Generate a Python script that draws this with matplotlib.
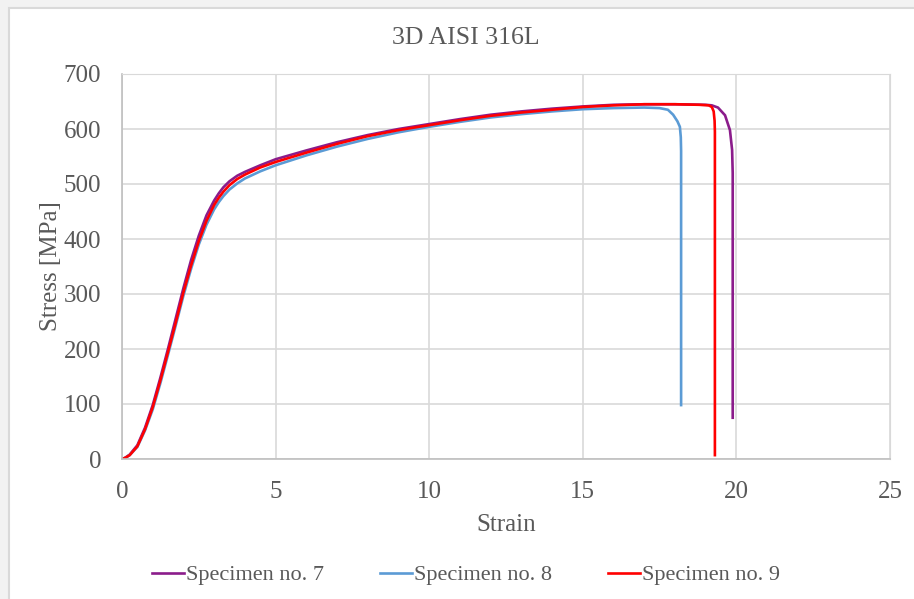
#!/usr/bin/env python3
"""Stress-strain curves, 3D printed AISI 316L specimens 7-9."""

import matplotlib
matplotlib.use("Agg")
import matplotlib.pyplot as plt
from matplotlib.patches import Rectangle

# Specimen no. 7
strain_7 = [0, 0.1, 0.25, 0.5, 0.75, 1.0, 1.25, 1.5, 1.75, 2.0, 2.25, 2.5,
            2.75, 3.0, 3.15, 3.3, 3.5, 3.75, 4.0, 4.5, 5.0, 6.0, 7.0, 8.0,
            9.0, 10.0, 11.0, 12.0, 13.0, 14.0, 15.0, 16.0, 17.0, 18.0, 19.0,
            19.2, 19.4, 19.63, 19.79, 19.86, 19.88, 19.88]
stress_7 = [0, 2, 8, 25, 57, 98, 148, 201, 256, 311, 362, 406,
            443, 470, 483, 494, 505, 515, 522, 534, 545, 561, 576, 589,
            600, 609, 618, 626, 632, 637, 641, 644, 645, 645, 644,
            643, 639, 625, 598, 562, 520, 75]

# Specimen no. 8
strain_8 = [0, 0.1, 0.25, 0.5, 0.75, 1.0, 1.25, 1.5, 1.75, 2.0, 2.25, 2.5,
            2.75, 3.0, 3.15, 3.3, 3.5, 3.75, 4.0, 4.5, 5.0, 6.0, 7.0, 8.0,
            9.0, 10.0, 11.0, 12.0, 13.0, 14.0, 15.0, 16.0, 17.0, 17.5, 17.77,
            17.94, 18.08, 18.16, 18.19, 18.2, 18.2]
stress_8 = [0, 2, 7, 22, 52, 90, 138, 190, 243, 297, 346, 390,
            426, 454, 467, 478, 490, 501, 510, 523, 534, 552, 568, 582,
            594, 604, 613, 621, 627, 632, 636, 638, 639, 638, 635,
            626, 614, 604, 585, 560, 98]

# Specimen no. 9
strain_9 = [0, 0.1, 0.25, 0.5, 0.75, 1.0, 1.25, 1.5, 1.75, 2.0, 2.25, 2.5,
            2.75, 3.0, 3.15, 3.3, 3.5, 3.75, 4.0, 4.5, 5.0, 6.0, 7.0, 8.0,
            9.0, 10.0, 11.0, 12.0, 13.0, 14.0, 15.0, 16.0, 17.0, 18.0, 18.8,
            19.1, 19.2, 19.26, 19.29, 19.3, 19.3]
stress_9 = [0, 2, 7, 23, 54, 94, 143, 195, 248, 303, 352, 396,
            433, 462, 475, 486, 498, 509, 517, 530, 540, 557, 573, 587,
            598, 607, 616, 624, 630, 635, 640, 643, 645, 645, 644,
            643, 640, 632, 615, 595, 7]

x_ticks = [0, 5, 10, 15, 20, 25]
y_ticks = [0, 100, 200, 300, 400, 500, 600, 700]

labels = ["Specimen no. 7", "Specimen no. 8", "Specimen no. 9"]
colors = ["#8B1C8B", "#5B9BD5", "#FF0000"]

TEXT = "#595959"
GRID = "#d9d9d9"

plt.rcParams["font.family"] = ["Liberation Serif", "DejaVu Serif"]

fig = plt.figure(figsize=(9.14, 5.99), dpi=100, facecolor="#f2f2f2")
W, H = 914, 599
# white chart area with a thin grey border, like the source sheet
fig.patches.append(Rectangle((8.5 / W, -0.1), 1.2, 1.1 - 8.5 / H,
                             transform=fig.transFigure, facecolor="white",
                             edgecolor=GRID, lw=1.5, zorder=-10))

ax = fig.add_axes([122 / W, 1 - 459 / H, (890 - 122) / W, (459 - 74) / H])
ax.set_facecolor("none")

series = [(strain_7, stress_7), (strain_8, stress_8), (strain_9, stress_9)]
for (x, y), lab, c in zip(series, labels, colors):
    ax.plot(x, y, color=c, lw=1.9, label=lab, solid_joinstyle="round")

ax.set_xlim(x_ticks[0], x_ticks[-1])
ax.set_ylim(y_ticks[0], y_ticks[-1])
ax.set_xticks(x_ticks, [str(t) for t in x_ticks], family="Liberation Serif")
ax.set_yticks(y_ticks, [str(t) for t in y_ticks], family="Liberation Serif")
ax.grid(True, color=GRID, lw=1.2)
ax.set_axisbelow(True)
ax.tick_params(length=0, labelsize=18, labelcolor=TEXT)
ax.tick_params(axis="y", pad=15)
ax.tick_params(axis="x", pad=16)
for side in ("top", "right"):
    ax.spines[side].set_color(GRID)
for side in ("left", "bottom"):
    ax.spines[side].set_color("#bfbfbf")
    ax.spines[side].set_linewidth(1.2)

ax.set_xlabel("Strain", fontsize=18, color=TEXT, labelpad=8)
ax.set_ylabel("Stress [MPa]", fontsize=18, color=TEXT, labelpad=1)
fig.text(466 / W, 1 - 38 / H, "3D AISI 316L", fontsize=18.5, color=TEXT,
         ha="center", va="center")

leg = fig.legend(loc="center", bbox_to_anchor=(466 / W, 1 - 575 / H),
                 ncol=3, frameon=False, fontsize=16, handlelength=1.45,
                 handletextpad=0.1, columnspacing=2.5)
for t in leg.get_texts():
    t.set_color(TEXT)

fig.savefig("out.png", dpi=100, facecolor=fig.get_facecolor())
